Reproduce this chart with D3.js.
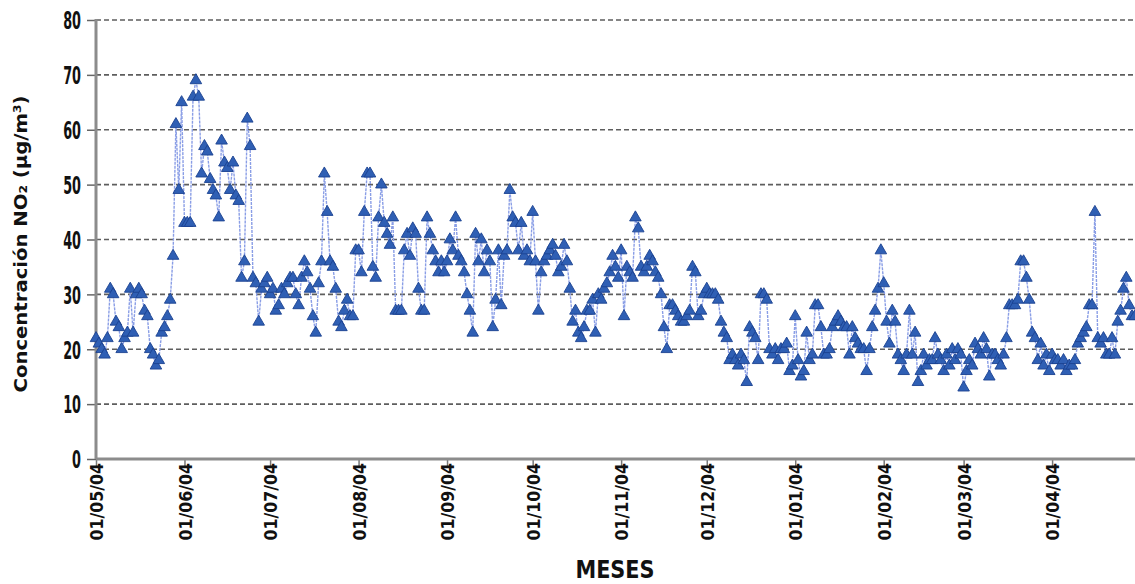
<!DOCTYPE html>
<html>
<head>
<meta charset="utf-8">
<script src="https://cdn.jsdelivr.net/npm/d3@7"></script>
<style>
  body { margin: 0; background: #fff; }
  text { font-family: "Liberation Sans Narrow", "Arial Narrow", "DejaVu Sans Condensed", sans-serif; font-weight: bold; fill: #111; }
</style>
</head>
<body>
<svg id="chart" width="1135" height="584"></svg>
<script>
// Daily NO2 concentration (µg/m³), one value per day from 1 May 2004
const may04 = [22, 21, 20, 19, 22, 31, 30, 25, 24, 20, 22, 23, 31, 23, 30, 31, 30, 27, 26, 20, 19, 17, 18, 23, 24, 26, 29, 37, 61, 49, 65];
const jun04 = [43, 43, 43, 66, 69, 66, 52, 57, 56, 51, 49, 48, 44, 58, 54, 53, 49, 54, 48, 47, 33, 36, 62, 57, 33, 32, 25, 31, 32, 33];
const jul04 = [30, 31, 27, 28, 31, 30, 32, 33, 33, 30, 28, 33, 36, 34, 31, 26, 23, 32, 36, 52, 45, 36, 35, 31, 25, 24, 27, 29, 26, 26, 38];
const aug04 = [38, 34, 45, 52, 52, 35, 33, 44, 50, 43, 41, 39, 44, 27, 27, 27, 38, 41, 37, 42, 41, 31, 27, 27, 44, 41, 38, 36, 34, 36, 34];
const sep04 = [36, 40, 38, 44, 37, 36, 34, 30, 27, 23, 41, 36, 40, 34, 38, 36, 24, 29, 38, 28, 37, 38, 49, 44, 43, 38, 43, 37, 38, 36];
const oct04 = [45, 36, 27, 34, 36, 37, 38, 39, 37, 34, 35, 39, 36, 31, 25, 27, 23, 22, 24, 27, 27, 29, 23, 30, 29, 31, 32, 34, 37, 35, 33];
const nov04 = [38, 26, 35, 34, 33, 44, 42, 35, 34, 35, 37, 36, 34, 33, 30, 24, 20, 28, 28, 27, 26, 25, 25, 26, 27, 35, 34, 26, 27, 30];
const dec04 = [31, 30, 30, 30, 29, 25, 23, 22, 18, 19, 18, 17, 19, 18, 14, 24, 23, 22, 18, 30, 30, 29, 20, 19, 20, 18, 20, 20, 21, 16, 17];
const jan05 = [26, 18, 15, 16, 23, 18, 19, 28, 28, 24, 19, 19, 20, 24, 25, 26, 25, 24, 24, 19, 24, 22, 21, 20, 20, 16, 20, 24, 27, 31, 38];
const feb05 = [32, 25, 21, 27, 25, 19, 18, 16, 19, 27, 19, 23, 14, 16, 19, 17, 18, 18, 22, 19, 18, 16, 19, 17, 20, 18, 20, 19];
const mar05 = [13, 16, 18, 17, 21, 20, 19, 22, 20, 15, 19, 19, 18, 17, 19, 22, 28, 28, 28, 29, 36, 36, 33, 29, 23, 22, 18, 21, 17, 19, 16];
const apr05 = [19, 18, 18, 17, 18, 16, 17, 17, 18, 21, 22, 23, 24, 28, 28, 45, 22, 21, 22, 19, 19, 22, 19, 25, 27, 31, 33, 28, 26, 26];

// Axis labels
const monthLabels = ["01/05/04", "01/06/04", "01/07/04", "01/08/04", "01/09/04", "01/10/04",
                     "01/11/04", "01/12/04", "01/01/04", "01/02/04", "01/03/04", "01/04/04"];
const yTickValues = [0, 10, 20, 30, 40, 50, 60, 70, 80];
const yTitle = "Concentración NO₂ (µg/m³)";
const xTitle = "MESES";

const start = new Date(Date.UTC(2004, 4, 1));
const end = new Date(Date.UTC(2005, 4, 1));
const values = [].concat(may04, jun04, jul04, aug04, sep04, oct04, nov04, dec04, jan05, feb05, mar05, apr05);
const series = values.map((v, i) => ({ date: d3.utcDay.offset(start, i), value: v }));

const svg = d3.select("#chart");
const plotLeft = 96, plotTop = 20, plotBottom = 459, plotRight = 1135;
const dayPx = 2.854;

const x = d3.scaleUtc().domain([start, end]).range([plotLeft, plotLeft + 365 * dayPx]);
const y = d3.scaleLinear().domain([0, 80]).range([plotBottom, plotTop]);

// horizontal dashed gridlines
svg.append("g").selectAll("line")
  .data(yTickValues.filter(d => d > 0))
  .join("line")
  .attr("x1", plotLeft).attr("x2", plotRight)
  .attr("y1", d => y(d)).attr("y2", d => y(d))
  .attr("stroke", "#5e5e5e").attr("stroke-width", 1.6)
  .attr("stroke-dasharray", "5,3");

// y axis
const yAxis = svg.append("g").attr("transform", `translate(${plotLeft},0)`)
  .call(d3.axisLeft(y).tickValues(yTickValues).tickSize(9).tickFormat(""));
yAxis.select(".domain").remove();
yAxis.selectAll(".tick line").attr("stroke", "#666").attr("stroke-width", 1.5);
yAxis.selectAll(".tick").append("text")
  .attr("transform", "translate(-15,0) scale(0.77,1.32)")
  .attr("text-anchor", "end").attr("dy", "0.36em")
  .style("font-size", "18.5px")
  .text(d => d);

// x axis
const monthStarts = d3.utcMonth.range(start, end);
const xAxis = svg.append("g").attr("transform", `translate(0,${plotBottom})`)
  .call(d3.axisBottom(x).tickValues(monthStarts).tickSize(7).tickFormat(""));
xAxis.select(".domain").remove();
xAxis.selectAll(".tick line").attr("stroke", "#777").attr("stroke-width", 1.5);
xAxis.selectAll(".tick").append("text")
  .attr("transform", "translate(0,4) rotate(-90) scale(0.95,1)")
  .attr("text-anchor", "end").attr("dy", "0.36em")
  .style("font-size", "18.5px")
  .text((d, i) => monthLabels[i]);

// axis lines
svg.append("line").attr("x1", plotLeft).attr("x2", plotLeft).attr("y1", plotTop - 1).attr("y2", plotBottom)
  .attr("stroke", "#8c8c8c").attr("stroke-width", 3);
svg.append("line").attr("x1", plotLeft).attr("x2", plotRight).attr("y1", plotBottom).attr("y2", plotBottom)
  .attr("stroke", "#8c8c8c").attr("stroke-width", 3);

// connecting line
const line = d3.line().x(d => x(d.date)).y(d => y(d.value));
svg.append("path").datum(series)
  .attr("d", line)
  .attr("fill", "none")
  .attr("stroke", "#8a9ee6").attr("stroke-width", 1.4)
  .attr("stroke-dasharray", "3,1");

// triangle markers
const tri = d3.symbol(d3.symbolTriangle, 58);
svg.append("g").selectAll("path")
  .data(series)
  .join("path")
  .attr("d", tri)
  .attr("transform", d => `translate(${x(d.date)},${y(d.value)})`)
  .attr("fill", "#2f5fb4").attr("stroke", "#1b4291").attr("stroke-width", 0.9);

// titles
svg.append("text")
  .attr("transform", "translate(20,244) rotate(-90) scale(1.18,1)")
  .attr("text-anchor", "middle").attr("dy", "0.36em")
  .style("font-size", "18.5px")
  .text(yTitle);
svg.append("text")
  .attr("transform", "translate(615,569) scale(1.25,1.3)")
  .attr("text-anchor", "middle").attr("dy", "0.36em")
  .style("font-size", "18.5px")
  .text(xTitle);
</script>
</body>
</html>
